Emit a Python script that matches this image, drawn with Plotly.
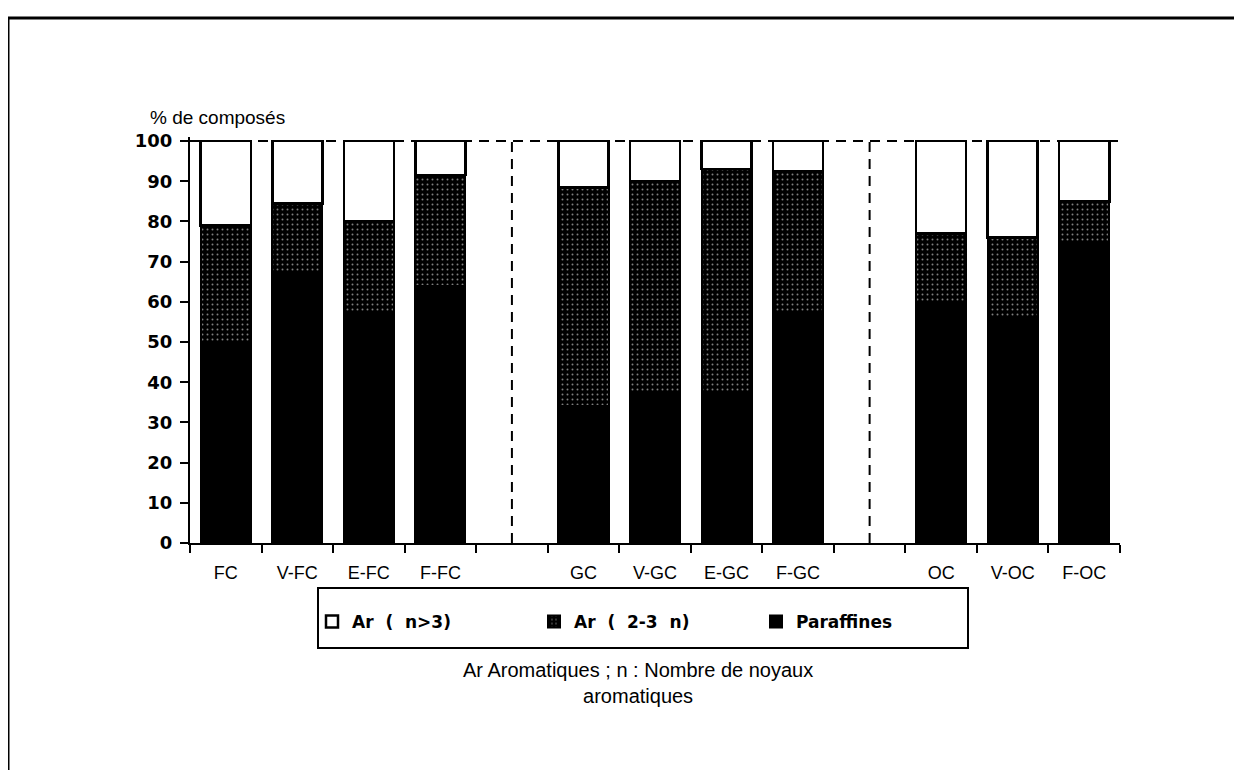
import plotly.graph_objects as go

# ---------------- data ----------------
categories = ["FC", "V-FC", "E-FC", "F-FC", " ",
              "GC", "V-GC", "E-GC", "F-GC", "  ",
              "OC", "V-OC", "F-OC"]
paraffines = [50, 67, 57, 64, None, 34, 37, 37, 57, None, 60, 56, 74.5]
ar_2_3     = [29, 17.5, 23, 27.5, None, 54.5, 53, 56, 35.5, None, 17, 20, 10.5]
ar_n3      = [21, 15.5, 20, 8.5, None, 11.5, 10, 7, 7.5, None, 23, 24, 15]
y_ticks = list(range(0, 101, 10))
separators = [" ", "  "]

# ---------------- geometry (page has an 8px body margin) ----------------
OFF = 8
W, H = 1242, 770
L, T = 190 - OFF, 137 - OFF
R = W - (1120 - OFF)
B = H - (543 - OFF)
PW, PH = W - L - R, H - T - B


def px(xp):
    return (xp - OFF - L) / PW


def py(yp):
    return (H - B - (yp - OFF)) / PH


FONT = "Liberation Sans, Arial, sans-serif"
BOLD = "DejaVu Sans, Liberation Sans, sans-serif"
DASH = "10px,7px"

fig = go.Figure()
fig.add_trace(go.Bar(
    x=categories, y=paraffines, name="<b>Paraffines</b>",
    marker=dict(color="black", line=dict(color="black", width=2)),
    width=0.7,
))
fig.add_trace(go.Bar(
    x=categories, y=ar_2_3, name="<b>Ar  (  2-3  n)</b>",
    marker=dict(color="black", line=dict(color="black", width=2),
                pattern=dict(shape=".", bgcolor="black", fgcolor="white",
                             size=5, solidity=0.12)),
    width=0.7,
))
fig.add_trace(go.Bar(
    x=categories, y=ar_n3, name="<b>Ar  (  n>3)</b>",
    marker=dict(color="white", line=dict(color="black", width=2.5)),
    width=0.7,
))

shapes = []
shapes.append(dict(type="line", xref="paper", yref="y", x0=0, x1=1, y0=100, y1=100,
                   line=dict(color="black", width=2, dash=DASH), layer="below"))
for s in separators:
    i = categories.index(s)
    shapes.append(dict(type="line", xref="x", yref="y", x0=i, x1=i, y0=0, y1=100,
                       line=dict(color="black", width=2, dash=DASH), layer="below"))
# legend box
shapes.append(dict(type="rect", xref="paper", yref="paper",
                   x0=px(318), x1=px(968), y0=py(588), y1=py(648),
                   line=dict(color="black", width=2), fillcolor="rgba(0,0,0,0)"))
# page frame
shapes.append(dict(type="rect", xref="paper", yref="paper",
                   x0=px(8), x1=px(1270), y0=py(18), y1=py(800),
                   line=dict(color="black", width=3), fillcolor="rgba(0,0,0,0)"))

annotations = [
    dict(text="% de composés", xref="paper", yref="paper", x=px(148), y=py(117),
         xanchor="left", yanchor="middle", showarrow=False,
         font=dict(family=FONT, size=19, color="black")),
    dict(text="Ar Aromatiques ; n : Nombre de noyaux<br>aromatiques",
         xref="paper", yref="paper", x=px(638), y=py(657),
         xanchor="center", yanchor="top", showarrow=False,
         font=dict(family=FONT, size=20, color="black")),
]

n = len(categories)
fig.update_layout(
    width=W, height=H,
    margin=dict(l=L, r=R, t=T, b=B, pad=0),
    paper_bgcolor="white", plot_bgcolor="white",
    barmode="stack",
    showlegend=True,
    legend=dict(orientation="h", traceorder="reversed",
                x=px(312), xanchor="left", y=py(604), yanchor="top",
                font=dict(family=BOLD, size=17, color="black"),
                entrywidth=177, entrywidthmode="pixels",
                bgcolor="rgba(0,0,0,0)", borderwidth=0),
    shapes=shapes,
    annotations=annotations,
    xaxis=dict(type="category", categoryorder="array", categoryarray=categories,
               range=[-0.5, n - 0.5],
               showline=True, linecolor="black", linewidth=2,
               ticks="outside", ticklen=8, tickwidth=2, tickcolor="black",
               tickson="boundaries", showgrid=False, zeroline=False,
               tickfont=dict(family=FONT, size=18, color="black"),
               ticklabelstandoff=12),
    xaxis2=dict(overlaying="x", side="bottom", anchor="y", range=[-0.5, n - 0.5],
                tickvals=[k - 0.5 for k in range(n + 1)], showticklabels=False,
                ticks="inside", ticklen=4, tickwidth=2, tickcolor="black",
                showgrid=False, zeroline=False, showline=False),
    yaxis=dict(range=[0, 101], tickvals=y_ticks,
               showline=True, linecolor="black", linewidth=2,
               ticks="outside", ticklen=8, tickwidth=2, tickcolor="black",
               showgrid=False, zeroline=False,
               tickfont=dict(family=BOLD, size=18, color="black", weight="bold"),
               ticklabelstandoff=4),
    yaxis2=dict(overlaying="y", side="left", anchor="x", range=[0, 101],
                tickvals=y_ticks, showticklabels=False,
                ticks="inside", ticklen=5, tickwidth=2, tickcolor="black",
                showgrid=False, zeroline=False, showline=False),
)

fig.write_html("out.html")
